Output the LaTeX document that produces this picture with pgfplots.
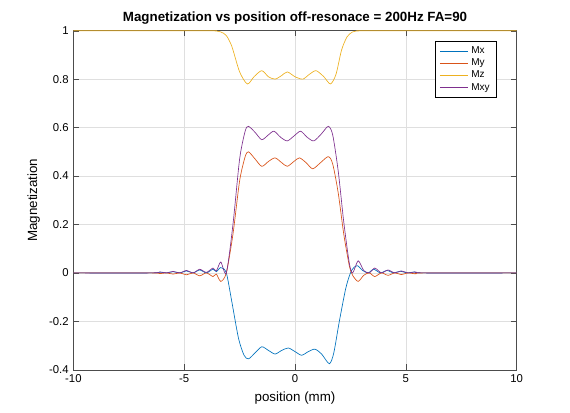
\documentclass[border=0pt]{standalone}
\usepackage{pgfplots}
\pgfplotsset{compat=1.18}
\usepackage{fontspec}
\setmainfont{Liberation Sans}
\definecolor{cx}{rgb}{0,0.447,0.741}
\definecolor{cy}{rgb}{0.85,0.325,0.098}
\definecolor{cz}{rgb}{0.929,0.694,0.125}
\definecolor{cxy}{rgb}{0.494,0.184,0.556}
\begin{document}
\begin{tikzpicture}
\begin{axis}[name=ax, scale only axis, width=332pt, height=254pt,
 xmin=-10, xmax=10, ymin=-0.4, ymax=1,
 xtick={-10,-5,0,5,10}, ytick={-0.4,-0.2,0,0.2,0.4,0.6,0.8,1},
 yticklabels={-0.4,-0.2,0,0.2,0.4,0.6,0.8,1},
 grid=major, major grid style={gray!25},
 tick align=inside, tick style={black!70}, axis line style={black!70},
 /pgf/number format/assume math mode=true,
 ticklabel style={font=\fontsize{8.5}{10}\selectfont},
 xlabel={position (mm)}, ylabel={Magnetization},
 label style={font=\fontsize{10}{12}\selectfont},
 title={\textbf{Magnetization vs position off-resonace = 200Hz FA=90}},
 title style={font=\fontsize{10}{12}\selectfont, yshift=-5pt},
 legend style={at={(0.955,0.97)}, anchor=north east, font=\fontsize{7.5}{9}\selectfont, draw=black, inner xsep=3pt, inner ysep=2pt, row sep=-1.5pt},
 legend cell align=left,
 legend image code/.code={\draw[#1] (0cm,0cm) -- (0.75cm,0cm);},
 every axis plot/.append style={line width=0.5pt, smooth, tension=0.45},
]
\addplot[cx] coordinates {(-10,0)(-6.5,0)(-6.1,0.003)(-5.8,0)(-5.5,0.005)(-5.2,0)(-4.9,0.008)(-4.6,0)(-4.3,0.012)(-4.0,0)(-3.7,0.015)(-3.55,0.005)(-3.35,0.022)(-3.1,0)(-2.85,-0.12)(-2.55,-0.27)(-2.3,-0.34)(-2.1,-0.355)(-1.8,-0.33)(-1.5,-0.305)(-1.2,-0.32)(-0.9,-0.335)(-0.6,-0.32)(-0.3,-0.31)(0,-0.325)(0.3,-0.34)(0.6,-0.325)(0.9,-0.315)(1.2,-0.335)(1.55,-0.375)(1.75,-0.33)(2.0,-0.2)(2.3,-0.06)(2.55,0.01)(2.8,0.03)(3.05,0.01)(3.3,0.0)(3.55,0.015)(3.85,0.0)(4.15,0.01)(4.45,0.0)(4.75,0.007)(5.05,0)(5.4,0.004)(5.8,0)(10,0)};
\addlegendentry{Mx}
\addplot[cy] coordinates {(-10,0)(-6.5,0)(-6.1,-0.003)(-5.8,0)(-5.5,-0.005)(-5.2,0)(-4.9,-0.008)(-4.6,0)(-4.3,-0.012)(-4.0,0)(-3.7,-0.015)(-3.55,-0.005)(-3.35,-0.035)(-3.1,0)(-2.8,0.16)(-2.5,0.38)(-2.25,0.48)(-2.1,0.5)(-1.8,0.47)(-1.5,0.44)(-1.2,0.46)(-0.9,0.475)(-0.6,0.455)(-0.35,0.44)(-0.05,0.46)(0.2,0.475)(0.5,0.455)(0.8,0.43)(1.15,0.455)(1.5,0.48)(1.7,0.45)(1.95,0.33)(2.2,0.16)(2.45,0.03)(2.6,-0.01)(2.85,-0.035)(3.1,-0.01)(3.35,0.0)(3.6,-0.015)(3.9,0)(4.2,-0.01)(4.5,0)(4.8,-0.007)(5.1,0)(5.45,-0.004)(5.8,0)(10,0)};
\addlegendentry{My}
\addplot[cz] coordinates {(-10,1)(-4,1)(-3.6,0.999)(-3.35,0.995)(-3.1,0.98)(-2.85,0.935)(-2.5,0.83)(-2.15,0.78)(-1.85,0.81)(-1.5,0.835)(-1.2,0.81)(-0.9,0.8)(-0.6,0.815)(-0.35,0.83)(0,0.81)(0.35,0.8)(0.65,0.82)(0.95,0.835)(1.3,0.81)(1.6,0.78)(1.85,0.82)(2.1,0.92)(2.35,0.975)(2.6,0.995)(2.85,0.999)(3.3,1)(10,1)};
\addlegendentry{Mz}
\addplot[cxy] coordinates {(-10,0)(-6.5,0)(-6.1,0.004)(-5.8,0)(-5.5,0.006)(-5.2,0)(-4.9,0.01)(-4.6,0)(-4.3,0.015)(-4.0,0.002)(-3.7,0.02)(-3.55,0.008)(-3.35,0.045)(-3.1,0.0)(-2.8,0.2)(-2.5,0.47)(-2.25,0.585)(-2.1,0.605)(-1.8,0.58)(-1.5,0.55)(-1.2,0.57)(-0.95,0.585)(-0.65,0.56)(-0.35,0.545)(-0.05,0.565)(0.25,0.585)(0.55,0.56)(0.85,0.545)(1.2,0.575)(1.5,0.605)(1.7,0.57)(1.95,0.42)(2.2,0.21)(2.45,0.04)(2.6,0.0)(2.85,0.05)(3.1,0.01)(3.35,0.0)(3.6,0.02)(3.9,0)(4.2,0.012)(4.5,0)(4.8,0.008)(5.1,0)(5.45,0.004)(5.8,0)(10,0)};
\addlegendentry{Mxy}
\end{axis}
\pgfresetboundingbox
\path ([xshift=-55pt,yshift=-32pt]ax.south west) rectangle ([xshift=40pt,yshift=23pt]ax.north east);
\end{tikzpicture}
\end{document}
